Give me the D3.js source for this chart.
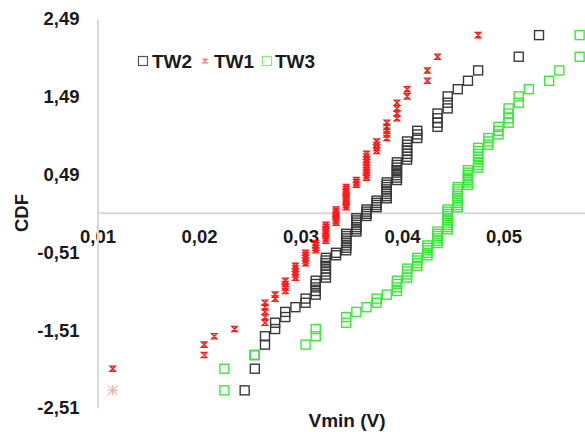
<!DOCTYPE html>
<html><head><meta charset="utf-8">
<script src="https://cdn.jsdelivr.net/npm/d3@7"></script>
<style>
html,body{margin:0;padding:0;background:#fff;}
svg text{font-family:"Liberation Sans",Arial,sans-serif;font-weight:bold;fill:#1a1a1a;}
</style></head>
<body><svg id="c" width="585" height="432"></svg>
<script>
// CDF (normal score) for each rank, shared by all series
const cdf = [-2.283,-2.005,-1.829,-1.696,-1.588,-1.495,-1.414,-1.341,-1.275,-1.214,-1.157,-1.104,-1.053,-1.006,-0.960,-0.916,-0.874,-0.834,-0.794,-0.756,-0.719,-0.683,-0.648,-0.614,-0.580,-0.547,-0.515,-0.483,-0.451,-0.420,-0.390,-0.360,-0.330,-0.300,-0.271,-0.242,-0.213,-0.185,-0.156,-0.127,-0.099,-0.071,-0.042,-0.014,
0.014,0.042,0.071,0.099,0.127,0.156,0.185,0.213,0.242,0.271,0.300,0.330,0.360,0.390,0.420,0.451,0.483,0.515,0.547,0.580,0.614,0.648,0.683,0.719,0.756,0.794,0.834,0.874,0.916,0.960,1.006,1.053,1.104,1.157,1.214,1.275,1.341,1.414,1.495,1.588,1.696,1.829,2.005,2.283];

// Vmin values (V), sorted, per series
const tw1 = [0.0115,0.0115,0.0205,0.0205,0.0215,0.0235,
0.0265,0.0265,0.0265,0.0265,0.0265,0.0275,0.0275,
0.0285,0.0285,0.0285,0.0285,0.0295,0.0295,0.0295,0.0295,0.0295,
0.0305,0.0305,0.0305,0.0305,0.0305,0.0315,0.0315,0.0315,0.0315,
0.0325,0.0325,0.0325,0.0325,0.0325,0.0325,0.0325,0.0325,
0.0335,0.0335,0.0335,0.0335,0.0335,0.0335,0.0335,
0.0345,0.0345,0.0345,0.0345,0.0345,0.0345,0.0345,0.0345,0.0345,0.0345,
0.0355,0.0355,0.0355,
0.0365,0.0365,0.0365,0.0365,0.0365,0.0365,0.0365,0.0365,0.0365,0.0365,
0.0375,0.0375,0.0375,0.0375,0.0385,0.0385,0.0385,0.0385,0.0385,
0.0395,0.0395,0.0395,0.0395,0.0405,0.0405,0.0425,0.0425,0.0435,0.0475];

const tw2 = [0.0245,0.0255,0.0255,0.0265,0.0265,0.0275,0.0275,0.0285,0.0285,0.0295,
0.0305,0.0305,0.0315,0.0315,0.0315,0.0315,0.0315,
0.0325,0.0325,0.0325,0.0325,0.0325,0.0325,0.0325,0.0325,0.0335,0.0335,
0.0345,0.0345,0.0345,0.0345,0.0345,0.0345,0.0345,0.0345,
0.0355,0.0355,0.0355,0.0355,0.0355,0.0355,0.0355,
0.0365,0.0365,0.0365,0.0365,0.0375,0.0375,0.0375,0.0375,
0.0385,0.0385,0.0385,0.0385,0.0385,0.0385,0.0385,0.0385,
0.0395,0.0395,0.0395,0.0395,0.0395,0.0395,0.0395,0.0395,
0.0405,0.0405,0.0405,0.0405,0.0405,0.0405,0.0405,
0.0415,0.0415,0.0415,0.0435,0.0435,0.0435,0.0435,0.0445,0.0445,0.0445,
0.0455,0.0465,0.0475,0.0515,0.0535];

const tw3 = [0.0225,0.0225,0.0255,0.0305,0.0315,0.0315,0.0345,0.0345,0.0355,0.0365,0.0375,0.0375,0.0385,
0.0395,0.0395,0.0395,0.0395,0.0405,0.0405,0.0405,0.0405,0.0415,0.0415,0.0415,0.0415,
0.0425,0.0425,0.0425,0.0425,0.0425,0.0435,0.0435,0.0435,0.0435,0.0435,0.0435,
0.0445,0.0445,0.0445,0.0445,0.0445,0.0445,0.0445,0.0445,0.0445,0.0445,
0.0455,0.0455,0.0455,0.0455,0.0455,0.0455,0.0455,0.0455,0.0455,0.0455,
0.0465,0.0465,0.0465,0.0465,0.0465,0.0465,0.0465,
0.0475,0.0475,0.0475,0.0475,0.0475,0.0475,0.0475,0.0475,
0.0485,0.0485,0.0485,0.0495,0.0495,0.0495,0.0505,0.0505,0.0505,0.0505,
0.0515,0.0515,0.0525,0.0545,0.0555,0.0575,0.0575];

const xTicks = [0.01,0.02,0.03,0.04,0.05];
const yTicks = [-2.51,-1.51,-0.51,0.49,1.49,2.49];
const seriesNames = ["TW2","TW1","TW3"];

const svg = d3.select("#c");
const x = d3.scaleLinear().domain([0.01,0.06]).range([97.5,605]);
const y = d3.scaleLinear().domain([-2.51,2.49]).range([408,19]);
const comma = v => v.toFixed(2).replace(".",",");

// axes
const gx = svg.append("g").attr("transform",`translate(0,${y(0)})`)
  .call(d3.axisBottom(x).tickValues(xTicks).tickSize(0).tickPadding(17).tickFormat(comma));
const gy = svg.append("g").attr("transform",`translate(${x(0.01)},0)`)
  .call(d3.axisLeft(y).tickValues(yTicks).tickSize(0).tickPadding(18).tickFormat(comma));
[gx,gy].forEach(g=>{
  g.select(".domain").attr("stroke","#d9d9d9").attr("stroke-width",2);
  g.selectAll("text").style("font-size","18.5px").attr("fill","#1a1a1a")
   .style("font-family","'Liberation Sans',Arial,sans-serif").style("font-weight","bold");
});

const sq = 9;
function squares(data, color){
  svg.append("g").selectAll("rect").data(data).join("rect")
    .attr("x",(d,i)=>x(d)-sq/2).attr("y",(d,i)=>y(cdf[i])-sq/2)
    .attr("width",sq).attr("height",sq)
    .attr("fill","none").attr("stroke",color).attr("stroke-width",1.4);
}
const h = 2.6;
const starPath = `M${-h},${-h}L${h},${-h}L${-h},${h}L${h},${h}Z`;
function stars(data){
  svg.append("g").selectAll("path").data(data).join("path")
    .attr("transform",(d,i)=>`translate(${x(d)},${y(cdf[i])})`)
    .attr("d",(d,i)=> i===0 ? "M-5,-5L5,5M5,-5L-5,5M0,-5L0,5M-5,0L5,0" : starPath)
    .attr("fill","none")
    .attr("stroke",(d,i)=> i===0 ? "#ff9a9a" : "#ff1a1a")
    .attr("stroke-width",(d,i)=> i===0 ? 1 : 1.4);
}
squares(tw2,"#3a3a3a");
stars(tw1);
squares(tw3,"#3ce83c");

// legend
const lg = svg.append("g");
lg.append("rect").attr("x",138.5).attr("y",56.5).attr("width",9).attr("height",9)
  .attr("fill","none").attr("stroke","#555").attr("stroke-width",1.2);
lg.append("text").attr("x",152).attr("y",61).attr("dy","0.35em").style("font-size","19px").text(seriesNames[0]);
lg.append("path").attr("transform","translate(205,61)")
  .attr("d","M-2,-2L2,-2L-2,2L2,2Z").attr("fill","none").attr("stroke","#ff7070").attr("stroke-width",1.1);
lg.append("text").attr("x",214).attr("y",61).attr("dy","0.35em").style("font-size","19px").text(seriesNames[1]);
lg.append("rect").attr("x",262.5).attr("y",56.5).attr("width",9).attr("height",9)
  .attr("fill","none").attr("stroke","#7cf27c").attr("stroke-width",1.2);
lg.append("text").attr("x",275).attr("y",61).attr("dy","0.35em").style("font-size","19px").text(seriesNames[2]);

// axis titles
svg.append("text").attr("x",347).attr("y",420).attr("dy","0.35em").attr("text-anchor","middle")
  .style("font-size","19px").text("Vmin (V)");
svg.append("text").attr("transform","translate(22,213) rotate(-90)").attr("dy","0.35em")
  .attr("text-anchor","middle").style("font-size","18.5px").text("CDF");
</script></body></html>
